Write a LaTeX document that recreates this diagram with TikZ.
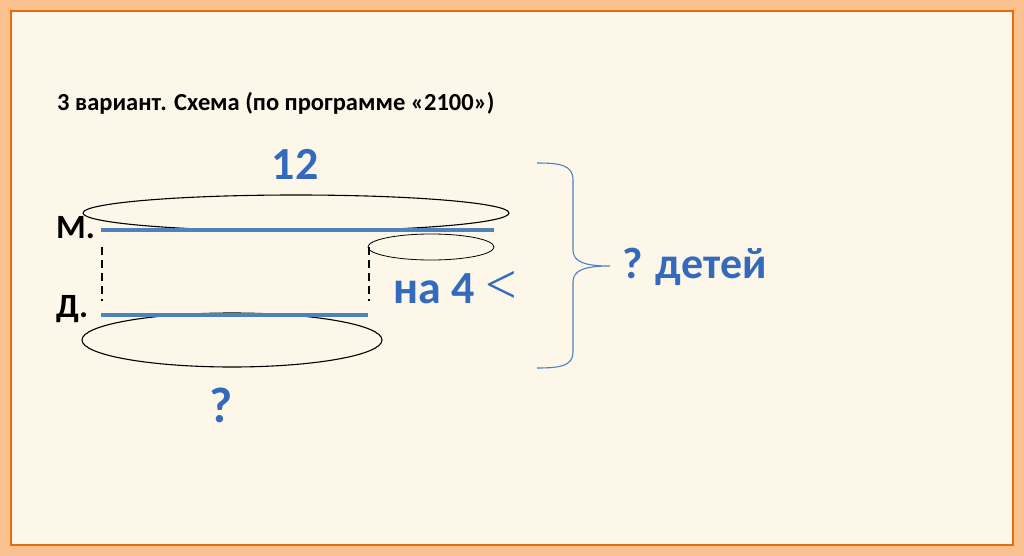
\documentclass[tikz,border=0pt]{standalone}
\usepackage{fontspec}
\setmainfont{Carlito}
\newfontfamily\serifsym{Liberation Serif}
\definecolor{outerorange}{RGB}{250,192,143}
\definecolor{frameorange}{RGB}{228,108,10}
\definecolor{cream}{RGB}{253,247,234}
\definecolor{segblue}{RGB}{79,129,189}
\definecolor{artblue}{RGB}{52,106,188}
\begin{document}
\begin{tikzpicture}[x=1pt,y=-1pt,
  title/.style={font=\fontsize{24.5}{28}\selectfont\bfseries, inner sep=0pt, anchor=base west},
  letter/.style={font=\fontsize{34}{38}\selectfont\bfseries, inner sep=0pt, anchor=base west},
  wordart/.style={font=\fontsize{46}{50}\selectfont\bfseries, text=artblue, inner sep=0pt},
  segment/.style={draw=segblue, line width=4pt},
  oval/.style={draw=black, line width=1.1pt},
  thinoval/.style={draw=black, line width=0.8pt},
  guide/.style={draw=black, line width=1.4pt, dash pattern=on 8pt off 5pt},
  bracecurve/.style={draw=segblue, line width=1.1pt}]
\useasboundingbox (0,0) rectangle (1024,556);
\fill[outerorange] (0,0) rectangle (1024,556);
\filldraw[fill=cream, draw=frameorange, line width=2.5pt] (11,11) rectangle (1013,545);

\node[title] (title) at (57,111) {3 вариант. Схема (по программе «2100»)};

\node[wordart] (n12) at (295,164) {12};

% ellipses
\draw[oval] (296,213) ellipse [x radius=213, y radius=18];
\draw[thinoval] (431,247) ellipse [x radius=63, y radius=13];
\draw[oval] (232,340) ellipse [x radius=150, y radius=27];

% labels
\node[letter] (m) at (56,238) {М.};
\node[letter] (d) at (56,317) {Д.};

% segments
\coordinate (ms) at (101,230);
\coordinate (me) at (494,230);
\coordinate (ds) at (101,315);
\coordinate (de) at (368,315);
\draw[segment] (ms) -- (me);
\draw[segment] (ds) -- (de);

% dashed guides
\coordinate (g1a) at (102,247);
\coordinate (g1b) at (102,301);
\coordinate (g2a) at (369,247);
\coordinate (g2b) at (369,301);
\draw[guide] (g1a) -- (g1b);
\draw[guide] (g2a) -- (g2b);

\node[wordart, anchor=base west] (diff) at (393,303) {на 4 {\serifsym\mdseries\fontsize{56}{58}\selectfont <}};

% brace
\draw[bracecurve] (537,163) .. controls (560,163) and (573,165) .. (573,180)
  -- (573,250) .. controls (573,262) and (585,266) .. (610,266)
  .. controls (585,266) and (573,270) .. (573,282)
  -- (573,352) .. controls (573,366) and (560,368) .. (537,368);

\node[wordart, font=\fontsize{44}{48}\selectfont\bfseries, anchor=base west] (total) at (622,278) {? детей};

\node[wordart, font=\fontsize{50}{54}\selectfont\bfseries] (q) at (221,405) {?};
\end{tikzpicture}
\end{document}
